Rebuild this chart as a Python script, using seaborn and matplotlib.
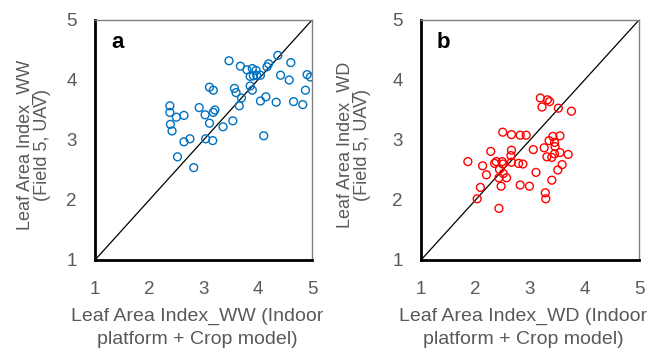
import matplotlib
matplotlib.use("Agg")
import matplotlib.pyplot as plt
import seaborn as sns
import pandas as pd

# Panel a: well-watered (WW)
ww_x = [3.47, 3.68, 3.80, 3.90, 3.97, 3.86, 3.92, 3.98, 4.05, 4.17, 4.20, 4.37, 4.61,
        4.42, 4.58, 4.91, 4.97, 4.88, 4.83, 4.66, 4.34, 4.15, 4.05, 3.90, 3.86, 3.57,
        3.60, 3.70, 3.66, 3.54, 3.36, 3.11, 3.18, 2.92, 3.03, 3.18, 3.21, 3.11, 3.04,
        3.17, 2.75, 2.64, 2.52, 2.82, 4.11, 2.38, 2.38, 2.50, 2.64, 2.39, 2.42]
ww_y = [4.32, 4.23, 4.17, 4.19, 4.16, 4.06, 4.07, 4.08, 4.08, 4.22, 4.27, 4.41, 4.29,
        4.08, 4.00, 4.09, 4.05, 3.83, 3.59, 3.64, 3.63, 3.72, 3.65, 3.83, 3.90, 3.86,
        3.79, 3.70, 3.57, 3.32, 3.22, 3.88, 3.83, 3.54, 3.42, 3.46, 3.50, 3.28, 3.02,
        2.99, 3.02, 2.97, 2.72, 2.54, 3.07, 3.57, 3.46, 3.38, 3.41, 3.26, 3.15]

# Panel b: water deficit (WD)
wd_x = [3.19, 3.32, 3.36, 3.22, 3.52, 3.76, 2.50, 2.66, 2.82, 2.93, 3.06, 3.26, 3.35,
        3.42, 3.55, 3.45, 3.46, 3.45, 3.55, 3.70, 3.31, 3.40, 3.59, 3.51, 3.40, 3.11,
        3.28, 3.29, 2.99, 2.82, 2.66, 2.65, 2.66, 2.79, 2.87, 2.28, 1.86, 2.13, 2.20,
        2.09, 2.03, 2.38, 2.35, 2.49, 2.50, 2.44, 2.51, 2.43, 2.57, 2.47, 2.43]
wd_y = [3.70, 3.67, 3.64, 3.55, 3.53, 3.48, 3.13, 3.09, 3.08, 3.08, 2.84, 2.87, 2.99,
        3.06, 3.07, 2.96, 2.89, 2.77, 2.79, 2.76, 2.72, 2.71, 2.59, 2.50, 2.33, 2.46,
        2.12, 2.02, 2.23, 2.25, 2.83, 2.74, 2.63, 2.61, 2.60, 2.81, 2.64, 2.57, 2.42,
        2.21, 2.02, 2.64, 2.61, 2.64, 2.60, 2.51, 2.44, 2.37, 2.37, 2.23, 1.86]

ticks = [1, 2, 3, 4, 5]
panel_letters = ["a", "b"]
xlabels = ["Leaf Area Index_WW (Indoor\nplatform + Crop model)",
           "Leaf Area Index_WD (Indoor\nplatform + Crop model)"]
ylabels = ["Leaf Area Index_WW\n(Field 5, UAV)",
           "Leaf Area Index_WD\n(Field 5, UAV)"]
colors = ["#0070C0", "#FF0000"]

sns.set_theme(style="white")
plt.rcParams["font.family"] = ["Liberation Sans", "DejaVu Sans"]

fig = plt.figure(figsize=(6.63, 3.54), dpi=100)
axes = [fig.add_axes([95 / 663, 94 / 354, 217 / 663, 240 / 354]),
        fig.add_axes([421 / 663, 94 / 354, 218 / 663, 240 / 354])]
ylab_x = [-0.203, -0.229]

data = [(ww_x, ww_y), (wd_x, wd_y)]
grey = "#595959"
for i, ax in enumerate(axes):
    df = pd.DataFrame({"x": data[i][0], "y": data[i][1]})
    ax.plot([1, 5], [1, 5], color="black", lw=0.9, zorder=1)
    sns.scatterplot(data=df, x="x", y="y", ax=ax, marker="o", s=32,
                    facecolor="none", edgecolor=colors[i], linewidth=1.0, zorder=3)
    ax.set_xlim(1, 5)
    ax.set_ylim(1, 5)
    ax.set_xticks(ticks)
    ax.set_yticks(ticks)
    ax.set_xticklabels([str(t) for t in ticks])
    ax.set_yticklabels([str(t) for t in ticks])
    ax.tick_params(axis="both", direction="inout", length=9, width=1, color="black",
                   labelcolor=grey, labelsize=13.5)
    ax.tick_params(axis="x", pad=10.5)
    ax.tick_params(axis="y", pad=8.5)
    for s in ["left", "bottom"]:
        ax.spines[s].set_linewidth(2)
        ax.spines[s].set_color("black")
    for s in ["top", "right"]:
        ax.spines[s].set_linewidth(1)
        ax.spines[s].set_color("#7F7F7F")
        ax.spines[s].set_visible(True)
    ax.set_xlabel(xlabels[i], color=grey, fontsize=14, linespacing=1.45)
    ax.xaxis.set_label_coords(0.47, -0.2)
    ax.set_ylabel(ylabels[i], color=grey, fontsize=13, linespacing=1.0)
    ax.yaxis.set_label_coords(ylab_x[i], 0.48)
    ax.text(1.41, 4.62, panel_letters[i], fontsize=16, fontweight="bold",
            ha="center", va="center", color="black")
    ax.grid(False)

fig.savefig("out.png", dpi=100)
